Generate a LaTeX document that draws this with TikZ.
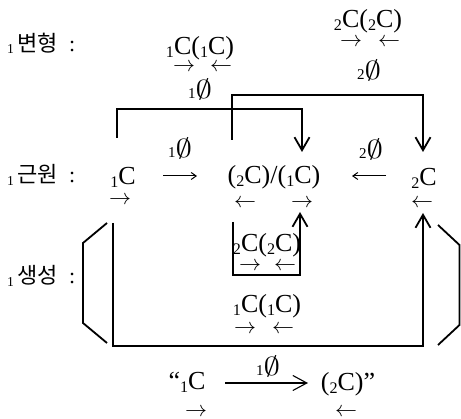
\RequirePackage{fix-cm}
\documentclass[tikz,border=0pt]{standalone}
\usepackage{fontspec}
\setmainfont{Liberation Serif}
\newfontfamily\krfont{Noto Sans CJK KR}
\usetikzlibrary{arrows.meta,calc}
\newcommand{\lsub}[1]{\raisebox{-0.1em}{\scalebox{0.62}{#1}}}
\newcommand{\nul}[1]{{\fontsize{15}{15}\selectfont #1}\scalebox{3.3}[2.6]{\fontsize{10}{10}\selectfont$\emptyset$}}

\begin{document}
\begin{tikzpicture}[x=1pt,y=-1pt,
  txt/.style={font=\fontsize{26}{26}\selectfont,inner sep=0pt,anchor=base},
  kor/.style={font=\fontsize{22}{22}\selectfont,inner sep=0pt,anchor=west},
  vec/.style={font=\fontsize{22}{22}\selectfont,inner sep=0pt},
  nulbl/.style={inner sep=0pt},
  link/.style={line width=1.8pt,-{Straight Barb[length=13pt,width=15pt,line width=1.8pt]}},
  frame/.style={line width=1.8pt},
  slim/.style={line width=1pt,-{Straight Barb[length=5pt,width=7pt]}}]
\useasboundingbox (0,0) rectangle (461,419);

% labels on the left
\node[kor] (hA) at (7,43) {\lsub{1}\,{\krfont 변형}\ \ :};
\node[kor] (hB) at (7,175) {\lsub{1}\,{\krfont 근원}\ \ :};
\node[kor] (hC) at (7,276) {\lsub{1}\,{\krfont 생성}\ \ :};

% terms
\node[txt] (t1) at (200,55) {\lsub{1}C(\lsub{1}C)};
\node[txt] (t2) at (368,28) {\lsub{2}C(\lsub{2}C)};
\node[txt] (c1) at (123,185) {\lsub{1}C};
\node[txt] (mix) at (274,184) {(\lsub{2}C)/(\lsub{1}C)};
\node[txt] (c2) at (424,186) {\lsub{2}C};
\node[txt] (t3) at (267,252) {\lsub{2}C(\lsub{2}C)};
\node[txt] (t4) at (267,313) {\lsub{1}C(\lsub{1}C)};
\node[txt] (q1) at (187,390) {“\lsub{1}C};
\node[txt] (q2) at (348,391) {(\lsub{2}C)”};

% null marks
\node[nulbl] (n1) at (200,89) {\nul{1}};
\node[nulbl] (n2) at (369,70) {\nul{2}};
\node[nulbl] (n3) at (180,148) {\nul{1}};
\node[nulbl] (n4) at (371,149) {\nul{2}};
\node[nulbl] (n5) at (268,366) {\nul{1}};

% direction marks under the terms
\node[vec] (v1) at (184,67) {$\rightarrow$};
\node[vec] (v2) at (221,67) {$\leftarrow$};
\node[vec] (v3) at (351,42) {$\rightarrow$};
\node[vec] (v4) at (389,42) {$\leftarrow$};
\node[vec] (v5) at (120,200) {$\rightarrow$};
\node[vec] (v6) at (245,203) {$\leftarrow$};
\node[vec] (v7) at (302,203) {$\rightarrow$};
\node[vec] (v8) at (422,203) {$\leftarrow$};
\node[vec] (v9) at (250,266) {$\rightarrow$};
\node[vec] (v10) at (285,266) {$\leftarrow$};
\node[vec] (v11) at (245,329) {$\rightarrow$};
\node[vec] (v12) at (283,329) {$\leftarrow$};
\node[vec] (v13) at (196,412) {$\rightarrow$};
\node[vec] (v14) at (346,412) {$\leftarrow$};

% short arrows between the terms
\coordinate (a1) at (163,176);
\coordinate (a2) at (197,176);
\coordinate (a3) at (386,176);
\coordinate (a4) at (352,176);
\draw[slim] (a1) -- (a2);
\draw[slim] (a3) -- (a4);
\coordinate (b1) at (225,383);
\coordinate (b2) at (308,383);
\draw[line width=1.1pt,-{Straight Barb[length=14pt,width=15pt,line width=1.1pt]}] (b1) -- (b2);

% links
\coordinate (s1) at (117,138);
\coordinate (e1) at (302,152);
\coordinate (s2) at (232,140);
\coordinate (e2) at (423,152);
\coordinate (s3) at (113,223);
\coordinate (e3) at (423,213);
\coordinate (s4) at (233,222);
\coordinate (e4) at (300,212);
\draw[link] (s1) -- ++(0,-29) -| (e1);
\draw[link] (s2) -- ++(0,-45) -| (e2);
\draw[link] (s3) -- ++(0,123) -| (e3);
\draw[link] (s4) -- ++(0,53) -| (e4);

% brackets
\draw[frame] (107,223) -- (83,243) -- (83,323) -- (107,343);
\draw[frame] (438,225) -- (459.5,245) -- (459.5,325) -- (438,345);

\end{tikzpicture}
\end{document}
